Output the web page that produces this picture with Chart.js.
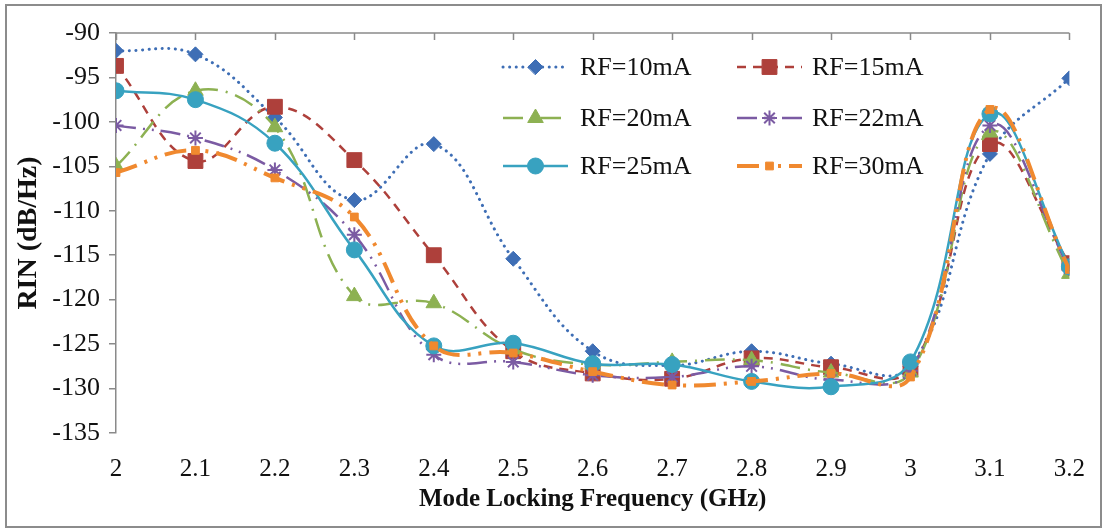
<!DOCTYPE html>
<html>
<head>
<meta charset="utf-8">
<script src="https://cdn.jsdelivr.net/npm/chart.js@4.4.1/dist/chart.umd.min.js"></script>
<style>
  html, body { margin: 0; padding: 0; background: #ffffff; }
  canvas { display: block; }
</style>
</head>
<body>
<canvas id="rin" width="1106" height="531"></canvas>
<script>
// Mode locking frequency (GHz)
const freq = [2, 2.1, 2.2, 2.3, 2.4, 2.5, 2.6, 2.7, 2.8, 2.9, 3.0, 3.1, 3.2];
const freqTickLabels = ['2', '2.1', '2.2', '2.3', '2.4', '2.5', '2.6', '2.7', '2.8', '2.9', '3', '3.1', '3.2'];
const rinTicks = [-135, -130, -125, -120, -115, -110, -105, -100, -95, -90];
const rinTickLabels = ['-135', '-130', '-125', '-120', '-115', '-110', '-105', '-100', '-95', '-90'];

// RIN (dB/Hz) for each RF drive current
const seriesNames = ['RF=10mA', 'RF=15mA', 'RF=20mA', 'RF=22mA', 'RF=25mA', 'RF=30mA'];
const rf10 = [-92.0, -92.4, -99.5, -108.8, -102.5, -115.4, -125.8, -127.4, -125.8, -127.2, -127.5, -103.6, -95.1];
const rf15 = [-93.7, -104.4, -98.3, -104.3, -115.0, -125.8, -128.3, -128.9, -126.6, -127.6, -127.8, -102.5, -115.9];
const rf20 = [-105.0, -96.5, -100.6, -119.6, -120.4, -125.6, -127.3, -127.0, -126.8, -128.2, -128.2, -101.2, -117.1];
const rf22 = [-100.4, -101.8, -105.4, -112.7, -126.2, -127.0, -128.5, -128.7, -127.5, -129.0, -128.0, -100.4, -116.5];
const rf25 = [-96.5, -97.5, -102.4, -114.4, -125.2, -124.9, -127.2, -127.3, -129.2, -129.8, -127.0, -99.1, -116.3];
const rf30 = [-105.7, -103.2, -106.3, -110.7, -125.2, -126.0, -128.1, -129.6, -129.2, -128.3, -128.7, -98.6, -116.6];

const seriesValues = [rf10, rf15, rf20, rf22, rf25, rf30];

const styles = [
  { color: '#3E6EB5', dash: [0.1, 6.5], cap: 'round', width: 3, point: 'rectRot', radius: 7.5 },
  { color: '#AE403B', dash: [9, 7], cap: 'butt', width: 2.5, point: 'rect', radius: 10.5 },
  { color: '#8DB152', dash: [20, 8, 2, 8], cap: 'butt', width: 2.5, point: 'triangle', radius: 9 },
  { color: '#7B5BA3', dash: [20, 7, 2, 7, 2, 7], cap: 'butt', width: 2.5, point: 'star', radius: 7.5 },
  { color: '#38A2C0', dash: [], cap: 'butt', width: 2.5, point: 'circle', radius: 8 },
  { color: '#F0892F', dash: [22, 8, 3, 8, 3, 8], cap: 'butt', width: 4, point: 'rect', radius: 5.5 }
];

const FONT = "'Liberation Serif', 'Times New Roman', serif";
const AXIS_GREY = '#8a8a8a';

const datasets = seriesValues.map((vals, i) => {
  const s = styles[i];
  return {
    label: seriesNames[i],
    data: vals.map((v, k) => ({ x: freq[k], y: v })),
    borderColor: s.color,
    backgroundColor: s.color,
    borderWidth: s.width,
    borderDash: s.dash,
    borderCapStyle: s.cap,
    pointStyle: s.point,
    pointRadius: s.radius,
    pointHoverRadius: s.radius,
    pointBackgroundColor: s.color,
    pointBorderColor: s.color,
    pointBorderWidth: s.point === 'star' ? 2 : 1,
    tension: 0.4,
    fill: false,
    order: seriesValues.length - 1 - i
  };
});

// Frame, top axis line with inward ticks, and in-plot legend
const decorations = {
  id: 'decorations',
  beforeDraw(chart) {
    const ctx = chart.ctx;
    ctx.save();
    ctx.fillStyle = '#ffffff';
    ctx.fillRect(0, 0, chart.width, chart.height);
    ctx.strokeStyle = '#8c8c8c';
    ctx.lineWidth = 2;
    ctx.strokeRect(6, 5, chart.width - 11, chart.height - 9);
    ctx.restore();
  },
  afterDatasetsDraw(chart) {
    const ctx = chart.ctx;
    const area = chart.chartArea;
    const xs = chart.scales.x;
    const ys = chart.scales.y;
    const yTop = ys.getPixelForValue(rinTicks[rinTicks.length - 1]);
    ctx.save();
    ctx.strokeStyle = AXIS_GREY;
    ctx.lineWidth = 1.5;
    ctx.beginPath();
    ctx.moveTo(area.left, yTop);
    ctx.lineTo(area.right, yTop);
    freq.forEach(f => {
      const px = Math.round(xs.getPixelForValue(f)) + 0.5;
      ctx.moveTo(px, yTop);
      ctx.lineTo(px, yTop + 7);
    });
    ctx.stroke();
    ctx.restore();

    // legend, two columns by three rows
    const cols = [{ x1: 503, x2: 568, text: 580 }, { x1: 737, x2: 802, text: 812 }];
    const rows = [67, 118, 166];
    chart.data.datasets.forEach((ds, i) => {
      const c = cols[i % 2];
      const y = rows[Math.floor(i / 2)];
      ctx.save();
      ctx.strokeStyle = ds.borderColor;
      ctx.lineWidth = ds.borderWidth;
      ctx.lineCap = ds.borderCapStyle;
      ctx.setLineDash(ds.borderDash);
      ctx.beginPath();
      ctx.moveTo(c.x1, y);
      ctx.lineTo(c.x2, y);
      ctx.stroke();
      ctx.setLineDash([]);
      ctx.fillStyle = ds.pointBackgroundColor;
      ctx.strokeStyle = ds.pointBorderColor;
      ctx.lineWidth = ds.pointBorderWidth;
      Chart.helpers.drawPoint(ctx, { pointStyle: ds.pointStyle, radius: ds.pointRadius, rotation: 0, borderWidth: ds.pointBorderWidth }, (c.x1 + c.x2) / 2, y);
      ctx.fillStyle = '#111111';
      ctx.font = '26px ' + FONT;
      ctx.textBaseline = 'middle';
      ctx.textAlign = 'left';
      ctx.fillText(ds.label, c.text, y + 1);
      ctx.restore();
    });
  }
};

new Chart(document.getElementById('rin'), {
  type: 'line',
  data: { datasets },
  plugins: [decorations],
  options: {
    responsive: false,
    animation: false,
    devicePixelRatio: 1,
    layout: { padding: { left: 0, right: 33, top: 33, bottom: 0 } },
    plugins: {
      legend: { display: false },
      tooltip: { enabled: false },
      title: { display: false }
    },
    scales: {
      x: {
        type: 'linear',
        position: 'bottom',
        min: freq[0],
        max: freq[freq.length - 1],
        afterBuildTicks: scale => { scale.ticks = freq.map(v => ({ value: v })); },
        afterFit: scale => { scale.height = 98; },
        grid: { display: false, drawTicks: false },
        border: { display: false },
        ticks: {
          autoSkip: false,
          maxRotation: 0,
          padding: 21,
          color: '#111111',
          font: { family: FONT, size: 25 },
          callback: (value, index) => freqTickLabels[index]
        },
        title: {
          display: true,
          text: 'Mode Locking Frequency (GHz)',
          color: '#111111',
          font: { family: FONT, size: 25, weight: 'bold' },
          padding: { top: 0, bottom: 16 }
        }
      },
      y: {
        type: 'linear',
        min: rinTicks[0],
        max: rinTicks[rinTicks.length - 1],
        afterBuildTicks: scale => { scale.ticks = rinTicks.map(v => ({ value: v })); },
        afterFit: scale => { scale.width = 116; },
        grid: {
          display: true,
          drawOnChartArea: false,
          drawTicks: true,
          tickLength: 7,
          color: AXIS_GREY,
          lineWidth: 1.5
        },
        border: { display: true, color: AXIS_GREY, width: 1.5 },
        ticks: {
          padding: 9,
          color: '#111111',
          font: { family: FONT, size: 26 },
          callback: (value, index) => rinTickLabels[index]
        },
        title: {
          display: true,
          text: 'RIN (dB/Hz)',
          color: '#111111',
          font: { family: FONT, size: 28, weight: 'bold' },
          padding: { top: 12, bottom: 0 }
        }
      }
    }
  }
});
</script>
</body>
</html>
